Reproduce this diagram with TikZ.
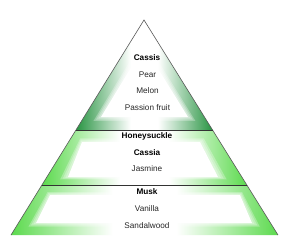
\documentclass[tikz,border=0pt]{standalone}
\usepackage{fontspec}
\setmainfont{Liberation Sans}
\usetikzlibrary{calc}
\definecolor{topgreen}{RGB}{40,148,66}
\definecolor{lowgreen}{RGB}{92,218,78}
\definecolor{txtgray}{RGB}{40,40,40}
\pgfdeclarehorizontalshading{topgrad}{100bp}{color(0bp)=(topgreen); color(25bp)=(topgreen); color(45bp)=(white); color(55bp)=(white); color(75bp)=(topgreen); color(100bp)=(topgreen)}
\pgfdeclarehorizontalshading{lowgrad}{100bp}{color(0bp)=(lowgreen); color(25bp)=(lowgreen); color(44bp)=(white); color(56bp)=(white); color(75bp)=(lowgreen); color(100bp)=(lowgreen)}
\tikzset{
  lbl/.style={font=\fontsize{8.2}{10}\selectfont\bfseries, text=black, inner sep=0pt},
  itm/.style={font=\fontsize{8.2}{10}\selectfont, text=txtgray, inner sep=0pt},
  edge/.style={draw=black!65, line width=0.6pt},
  divider/.style={draw=black!80, line width=0.7pt},
  halo/.style={fill=white, fill opacity=0.28}
}
\begin{document}
\begin{tikzpicture}[x=1pt,y=-1pt]
\useasboundingbox[fill=white] (0,0) rectangle (293,239);
% outer coordinates
\coordinate (apex) at (144,20);
\coordinate (l1) at (76,130);
\coordinate (r1) at (212.6,130);
\coordinate (l2) at (41.9,185);
\coordinate (r2) at (246.8,185);
\coordinate (l3) at (11,235);
\coordinate (r3) at (278,235);
% inner (white) shapes
\coordinate (ta) at (144,46);
\coordinate (tb) at (101,117);
\coordinate (tc) at (188,117);
\coordinate (ma) at (82,142);
\coordinate (mb) at (200,142);
\coordinate (mc) at (218,177);
\coordinate (md) at (68,177);
\coordinate (ba) at (50,195);
\coordinate (bb) at (240,195);
\coordinate (bc) at (252,223);
\coordinate (bd) at (36,223);
% tier fills
\shade[shading=topgrad] (apex) -- (l1) -- (r1) -- cycle;
\shade[shading=lowgrad] (l1) -- (r1) -- (r2) -- (l2) -- cycle;
\shade[shading=lowgrad] (l2) -- (r2) -- (r3) -- (l3) -- cycle;
% soft white inner shapes
\foreach \s in {0.3,0.2,0.1}{
  \fill[halo] ($(ta)!\s!(apex)$) -- ($(tb)!\s!(l1)$) -- ($(tc)!\s!(r1)$) -- cycle;
  \fill[halo] ($(ma)!\s!(l1)$) -- ($(mb)!\s!(r1)$) -- ($(mc)!\s!(r2)$) -- ($(md)!\s!(l2)$) -- cycle;
  \fill[halo] ($(ba)!\s!(l2)$) -- ($(bb)!\s!(r2)$) -- ($(bc)!\s!(r3)$) -- ($(bd)!\s!(l3)$) -- cycle;
}
\fill[white] (ta) -- (tb) -- (tc) -- cycle;
\fill[white] (ma) -- (mb) -- (mc) -- (md) -- cycle;
\fill[white] (ba) -- (bb) -- (bc) -- (bd) -- cycle;
% outlines
\draw[edge] (l3) -- (apex) -- (r3);
\draw[divider] (l1) -- (r1);
\draw[divider] (l2) -- (r2);
% texts
\node[lbl] (cassis) at (147,58) {Cassis};
\node[itm] (pear) at (147.5,75) {Pear};
\node[itm] (melon) at (147.5,91) {Melon};
\node[itm] (passion) at (147.5,108) {Passion fruit};
\node[lbl] (honey) at (147,136) {Honeysuckle};
\node[lbl] (cassia) at (147,153) {Cassia};
\node[itm] (jasmine) at (147,169) {Jasmine};
\node[lbl] (musk) at (147,192) {Musk};
\node[itm] (vanilla) at (147,209) {Vanilla};
\node[itm] (sandal) at (147,225.5) {Sandalwood};
\end{tikzpicture}
\end{document}
